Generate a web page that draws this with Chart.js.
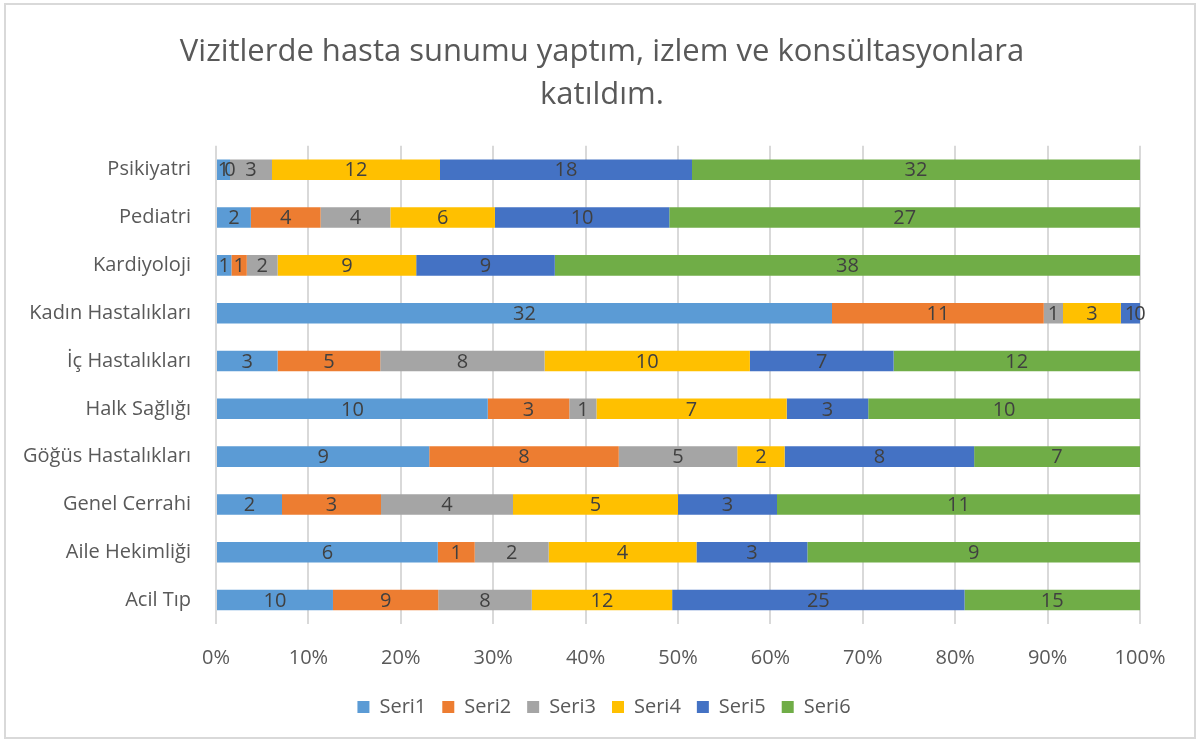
<!DOCTYPE html>
<html>
<head>
<meta charset="utf-8">
<script src="https://cdn.jsdelivr.net/npm/chart.js@4"></script>
<style>
  body { margin: 0; background: #fff; }
  #kutu { position: absolute; left: 4px; top: 3px; width: 1188px; height: 732px; border: 2px solid #d9d9d9; background: #fff; }
</style>
</head>
<body>
<div id="kutu"><canvas id="grafik" width="1188" height="732"></canvas></div>
<script>
// kategoriler (yukaridan asagiya)
const bolumler = ['Psikiyatri', 'Pediatri', 'Kardiyoloji', 'Kadın Hastalıkları', 'İç Hastalıkları',
  'Halk Sağlığı', 'Göğüs Hastalıkları', 'Genel Cerrahi', 'Aile Hekimliği', 'Acil Tıp'];

const seri1 = [1, 2, 1, 32, 3, 10, 9, 2, 6, 10];
const seri2 = [0, 4, 1, 11, 5, 3, 8, 3, 1, 9];
const seri3 = [3, 4, 2, 1, 8, 1, 5, 4, 2, 8];
const seri4 = [12, 6, 9, 3, 10, 7, 2, 5, 4, 12];
const seri5 = [18, 10, 9, 1, 7, 3, 8, 3, 3, 25];
const seri6 = [32, 27, 38, 0, 12, 10, 7, 11, 9, 15];

const seriAdlari = ['Seri1', 'Seri2', 'Seri3', 'Seri4', 'Seri5', 'Seri6'];
const renkler = ['#5B9BD5', '#ED7D31', '#A5A5A5', '#FFC000', '#4472C4', '#70AD47'];
const tumSeriler = [seri1, seri2, seri3, seri4, seri5, seri6];

// satir toplamlari -> yuzde
const toplamlar = bolumler.map((b, i) => tumSeriler.reduce((t, s) => t + s[i], 0));

const datasets = tumSeriler.map((s, k) => ({
  label: seriAdlari[k],
  ham: s,
  data: s.map((v, i) => v / toplamlar[i] * 100),
  backgroundColor: renkler[k],
  borderWidth: 0,
  barPercentage: 0.43,
  categoryPercentage: 1
}));

// etiketleri cubuklarin ortasina yaz
const etiketler = {
  id: 'etiketler',
  afterDatasetsDraw(chart) {
    const ctx = chart.ctx;
    ctx.save();
    ctx.font = '20px "Open Sans", sans-serif';
    ctx.fillStyle = '#404040';
    ctx.textAlign = 'center';
    ctx.textBaseline = 'middle';
    chart.data.datasets.forEach((ds, k) => {
      chart.getDatasetMeta(k).data.forEach((bar, i) => {
        const x = (bar.x + bar.base) / 2;
        ctx.fillText(String(ds.ham[i]), x, bar.y + 1);
      });
    });
    ctx.restore();
  }
};

// baslik ve aciklamayi tuvalin ortasina kaydir
const ortala = {
  id: 'ortala',
  afterLayout(chart) {
    chart.titleBlock.left += 24;
    chart.titleBlock.right += 24;
    chart.legend.left += 26;
    chart.legend.right += 26;
  }
};

new Chart(document.getElementById('grafik'), {
  type: 'bar',
  data: { labels: bolumler, datasets: datasets },
  plugins: [etiketler, ortala],
  options: {
    indexAxis: 'y',
    responsive: false,
    animation: false,
    layout: { padding: { left: 10, right: 54, top: 14, bottom: 10 } },
    scales: {
      x: {
        stacked: true,
        min: 0,
        max: 100,
        ticks: {
          stepSize: 10,
          callback: v => v + '%',
          color: '#595959',
          font: { size: 20, family: '"Open Sans", sans-serif' },
          padding: 22
        },
        grid: { color: '#d9d9d9', lineWidth: 2, drawTicks: false },
        border: { display: false },
        afterFit(scale) { scale.height -= 11; }
      },
      y: {
        stacked: true,
        ticks: {
          color: '#595959',
          font: { size: 20, family: '"Open Sans", sans-serif' },
          padding: 17
        },
        grid: { display: false },
        border: { display: false },
        afterFit(scale) { scale.width = 200; }
      }
    },
    plugins: {
      title: {
        display: true,
        text: ['Vizitlerde hasta sunumu yaptım, izlem ve konsültasyonlara', 'katıldım.'],
        color: '#595959',
        font: { size: 31, weight: 'normal', family: '"Open Sans", sans-serif', lineHeight: 1.4 },
        padding: { top: 11, bottom: 29 }
      },
      legend: {
        position: 'bottom',
        labels: {
          color: '#595959',
          font: { size: 20, family: '"Open Sans", sans-serif' },
          boxWidth: 12,
          boxHeight: 12,
          padding: 16
        }
      },
      tooltip: { enabled: false }
    }
  }
});
</script>
</body>
</html>
